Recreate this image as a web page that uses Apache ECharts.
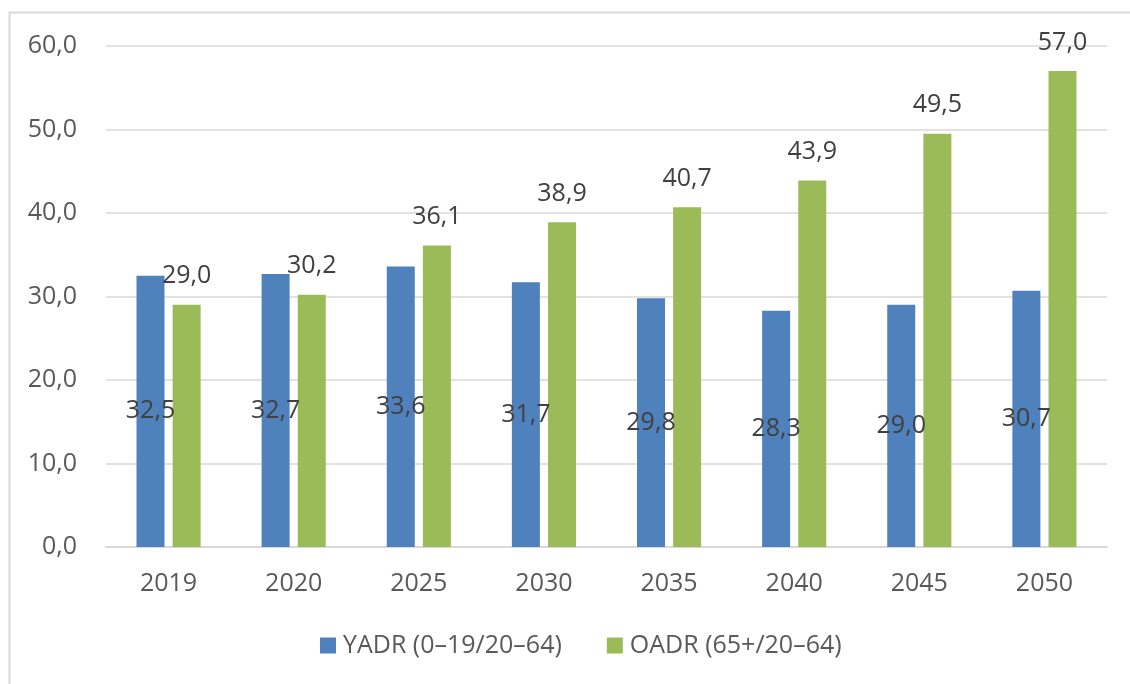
<!DOCTYPE html>
<html>
<head>
<meta charset="utf-8">
<style>
  html, body { margin: 0; padding: 0; background: #fff; }
  #chart { width: 1130px; height: 684px; }
</style>
<script src="https://cdn.jsdelivr.net/npm/echarts@6/dist/echarts.min.js"></script>
</head>
<body>
<div id="chart"></div>
<script>
// Dependency ratios by year
const years = ['2019', '2020', '2025', '2030', '2035', '2040', '2045', '2050'];
const yadr = [32.5, 32.7, 33.6, 31.7, 29.8, 28.3, 29.0, 30.7];
const oadr = [29.0, 30.2, 36.1, 38.9, 40.7, 43.9, 49.5, 57.0];
const seriesNames = ['YADR (0–19/20–64)', 'OADR (65+/20–64)'];

const fmt = v => v.toFixed(1).replace('.', ',');
const FONT = '"Open Sans", "Noto Sans", sans-serif';
const FS = 25;

const chart = echarts.init(document.getElementById('chart'), null, { renderer: 'canvas' });
chart.setOption({
  animation: false,
  textStyle: { fontFamily: FONT },
  graphic: [{
    type: 'rect',
    shape: { x: 9.5, y: 12.5, width: 1200, height: 800 },
    style: { fill: 'none', stroke: '#d9d9d9', lineWidth: 2 },
    silent: true
  }],
  grid: { left: 106, right: 23, top: 46, bottom: 137, containLabel: false },
  legend: {
    top: 628,
    left: 315,
    itemWidth: 16,
    itemHeight: 16,
    itemGap: 45,
    icon: 'rect',
    textStyle: { fontSize: FS, color: '#595959', fontFamily: FONT, padding: [0, 0, 0, 2] },
    data: seriesNames
  },
  xAxis: {
    type: 'category',
    data: years,
    axisLine: { lineStyle: { color: '#d9d9d9', width: 2 } },
    axisTick: { show: false },
    axisLabel: { fontSize: FS, color: '#595959', margin: 24, fontFamily: FONT }
  },
  yAxis: {
    type: 'value',
    min: 0, max: 60, interval: 10,
    axisLine: { show: false },
    axisTick: { show: false },
    splitLine: { lineStyle: { color: '#d9d9d9', width: 1.5 } },
    axisLabel: { fontSize: FS, color: '#595959', margin: 29, fontFamily: FONT, formatter: v => fmt(v) }
  },
  series: [
    {
      name: seriesNames[0],
      type: 'bar',
      data: yadr,
      barWidth: 28,
      barGap: '29%',
      itemStyle: { color: '#4f81bd' },
      label: {
        show: true, position: 'inside', fontSize: FS, color: '#404040',
        fontFamily: FONT, formatter: p => fmt(p.value)
      }
    },
    {
      name: seriesNames[1],
      type: 'bar',
      data: oadr,
      barWidth: 28,
      itemStyle: { color: '#9bbb59' },
      label: {
        show: true, position: 'top', distance: 16, fontSize: FS, color: '#404040',
        fontFamily: FONT, formatter: p => fmt(p.value)
      }
    }
  ]
});
</script>
</body>
</html>
